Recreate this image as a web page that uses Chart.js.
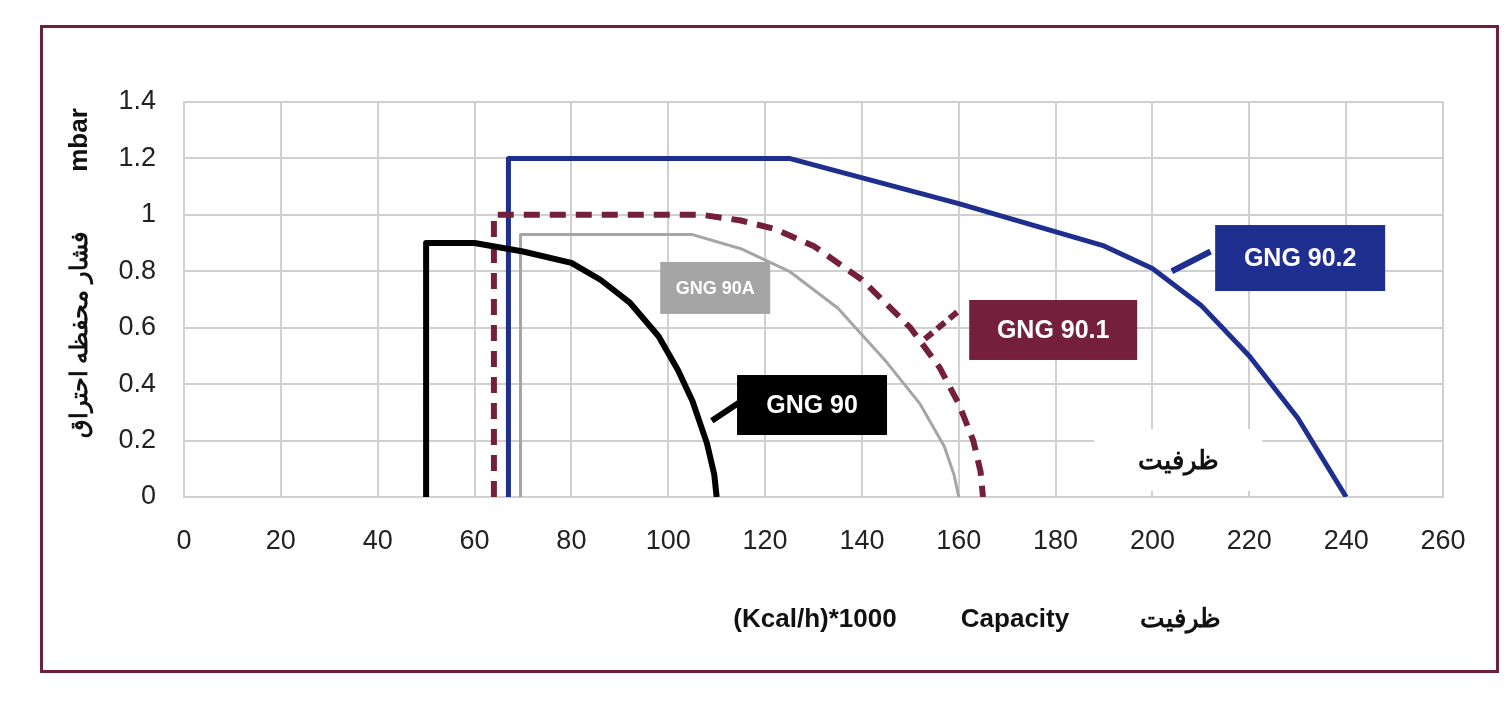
<!DOCTYPE html>
<html><head><meta charset="utf-8">
<script src="https://cdn.jsdelivr.net/npm/chart.js@4/dist/chart.umd.min.js"></script>
<style>
body{margin:0;background:#fff;}
#wrap{position:relative;width:1508px;height:704px;}
#frame{position:absolute;left:40px;top:25px;width:1453px;height:642px;border:3px solid #6e2038;pointer-events:none;}
</style></head><body>
<div id="wrap"><canvas id="c" width="1508" height="704"></canvas><div id="frame"></div></div>
<script>
// curve points, capacity (x) and pressure (y)
const gng90X = [50, 50, 60, 70, 80, 86, 92, 98, 102, 105, 108, 109.5, 110];
const gng90Y = [0, 0.9, 0.9, 0.87, 0.83, 0.77, 0.69, 0.57, 0.45, 0.34, 0.19, 0.08, 0];
const gng90aX = [69.5, 69.5, 105, 115, 125, 135, 145, 152, 157, 159, 160];
const gng90aY = [0, 0.93, 0.93, 0.88, 0.8, 0.67, 0.48, 0.33, 0.18, 0.08, 0];
const gng901X = [64, 64, 107, 115, 122, 130, 140, 150, 156, 160, 163, 164.5, 165];
const gng901Y = [0, 1.0, 1.0, 0.98, 0.95, 0.89, 0.77, 0.6, 0.46, 0.33, 0.2, 0.09, 0];
const gng902X = [67, 67, 125, 160, 190, 200, 210, 220, 230, 235, 240];
const gng902Y = [0, 1.2, 1.2, 1.04, 0.89, 0.81, 0.68, 0.5, 0.28, 0.14, 0];

const labels = [
  { text: 'GNG 90.2', x: 230.5, y: 0.847, w: 170, h: 66, bg: '#1f2f8f', font: 'bold 25px Arial', lx1: 204, ly1: 0.8, lx2: 212, ly2: 0.87, dash: [] , lc: '#1f2f8f'},
  { text: 'GNG 90.1', x: 179.5, y: 0.592, w: 168, h: 60, bg: '#74203c', font: 'bold 25px Arial', lx1: 153, ly1: 0.56, lx2: 160, ly2: 0.66, dash: [10, 6], lc: '#74203c' },
  { text: 'GNG 90A', x: 109.7, y: 0.741, w: 110, h: 52, bg: '#a5a5a5', font: 'bold 18px Arial', lx1: 0, ly1: 0, lx2: 0, ly2: 0, dash: [], lc: null },
  { text: 'GNG 90', x: 129.7, y: 0.326, w: 150, h: 60, bg: '#000000', font: 'bold 25px Arial', lx1: 109, ly1: 0.27, lx2: 116, ly2: 0.35, dash: [], lc: '#000' }
];

function pts(xs, ys) { return xs.map((x, i) => ({ x: x, y: ys[i] })); }

const overlay = {
  id: 'overlay',
  afterDatasetsDraw(chart) {
    const ctx = chart.ctx, xs = chart.scales.x, ys = chart.scales.y;
    ctx.save();
    // white box over grid
    const bx = xs.getPixelForValue(205.3), by = ys.getPixelForValue(0.131);
    ctx.fillStyle = '#fff';
    ctx.fillRect(bx - 84, by - 31, 168, 62);
    ctx.fillStyle = '#111';
    ctx.font = 'bold 26px "Noto Sans", Arial';
    ctx.textAlign = 'center'; ctx.textBaseline = 'middle';
    ctx.fillText('ظرفیت', bx, by + 2);
    labels.forEach(l => {
      if (l.lc) {
        ctx.strokeStyle = l.lc; ctx.lineWidth = 6; ctx.setLineDash(l.dash);
        ctx.beginPath();
        ctx.moveTo(xs.getPixelForValue(l.lx1), ys.getPixelForValue(l.ly1));
        ctx.lineTo(xs.getPixelForValue(l.lx2), ys.getPixelForValue(l.ly2));
        ctx.stroke(); ctx.setLineDash([]);
      }
      const cx = xs.getPixelForValue(l.x), cy = ys.getPixelForValue(l.y);
      ctx.fillStyle = l.bg;
      ctx.fillRect(cx - l.w / 2, cy - l.h / 2, l.w, l.h);
      ctx.fillStyle = '#fff'; ctx.font = l.font;
      ctx.fillText(l.text, cx, cy + 1);
    });
    // axis titles
    ctx.fillStyle = '#111';
    ctx.font = 'bold 26px Arial';
    ctx.fillText('(Kcal/h)*1000', 815, 620);
    ctx.fillText('Capacity', 1015, 620);
    ctx.font = 'bold 26px "Noto Sans", Arial';
    ctx.fillText('ظرفیت', 1180, 620);
    ctx.translate(80, 300); ctx.rotate(-Math.PI / 2);
    ctx.font = 'bold 26px Arial';
    ctx.fillText('mbar', 160, 0);
    ctx.font = 'bold 24px "Noto Sans", Arial';
    ctx.fillText('فشار محفظه احتراق', -35, 0);
    ctx.restore();
  }
};

new Chart(document.getElementById('c'), {
  type: 'scatter',
  data: {
    datasets: [
      { data: pts(gng90X, gng90Y), borderColor: '#000', borderWidth: 6 },
      { data: pts(gng90aX, gng90aY), borderColor: '#a5a5a5', borderWidth: 3 },
      { data: pts(gng901X, gng901Y), borderColor: '#74203c', borderWidth: 6, borderDash: [16, 10] },
      { data: pts(gng902X, gng902Y), borderColor: '#1f2f8f', borderWidth: 5 }
    ].map(d => Object.assign(d, { showLine: true, pointRadius: 0, tension: 0, fill: false, borderJoinStyle: 'round' }))
  },
  options: {
    responsive: false, animation: false,
    layout: { padding: { top: 102, right: 65, left: 0, bottom: 0 } },
    plugins: { legend: { display: false }, tooltip: { enabled: false } },
    scales: {
      x: {
        type: 'linear', min: 0, max: 260,
        ticks: { stepSize: 20, color: '#222', font: { size: 27, family: 'Arial' }, padding: 28 },
        grid: { color: '#d0d0d0', lineWidth: 2, drawTicks: false },
        border: { color: '#d0d0d0', width: 2 },
        afterFit(s) { s.height = 207; }
      },
      y: {
        min: 0, max: 1.4,
        ticks: { stepSize: 0.2, color: '#222', font: { size: 27, family: 'Arial' }, padding: 28,
          callback: v => String(Math.round(v * 10) / 10) },
        grid: { color: '#d0d0d0', lineWidth: 2, drawTicks: false },
        border: { color: '#d0d0d0', width: 2 },
        afterFit(s) { s.width = 184; }
      }
    }
  },
  plugins: [overlay]
});
</script>
</body></html>
